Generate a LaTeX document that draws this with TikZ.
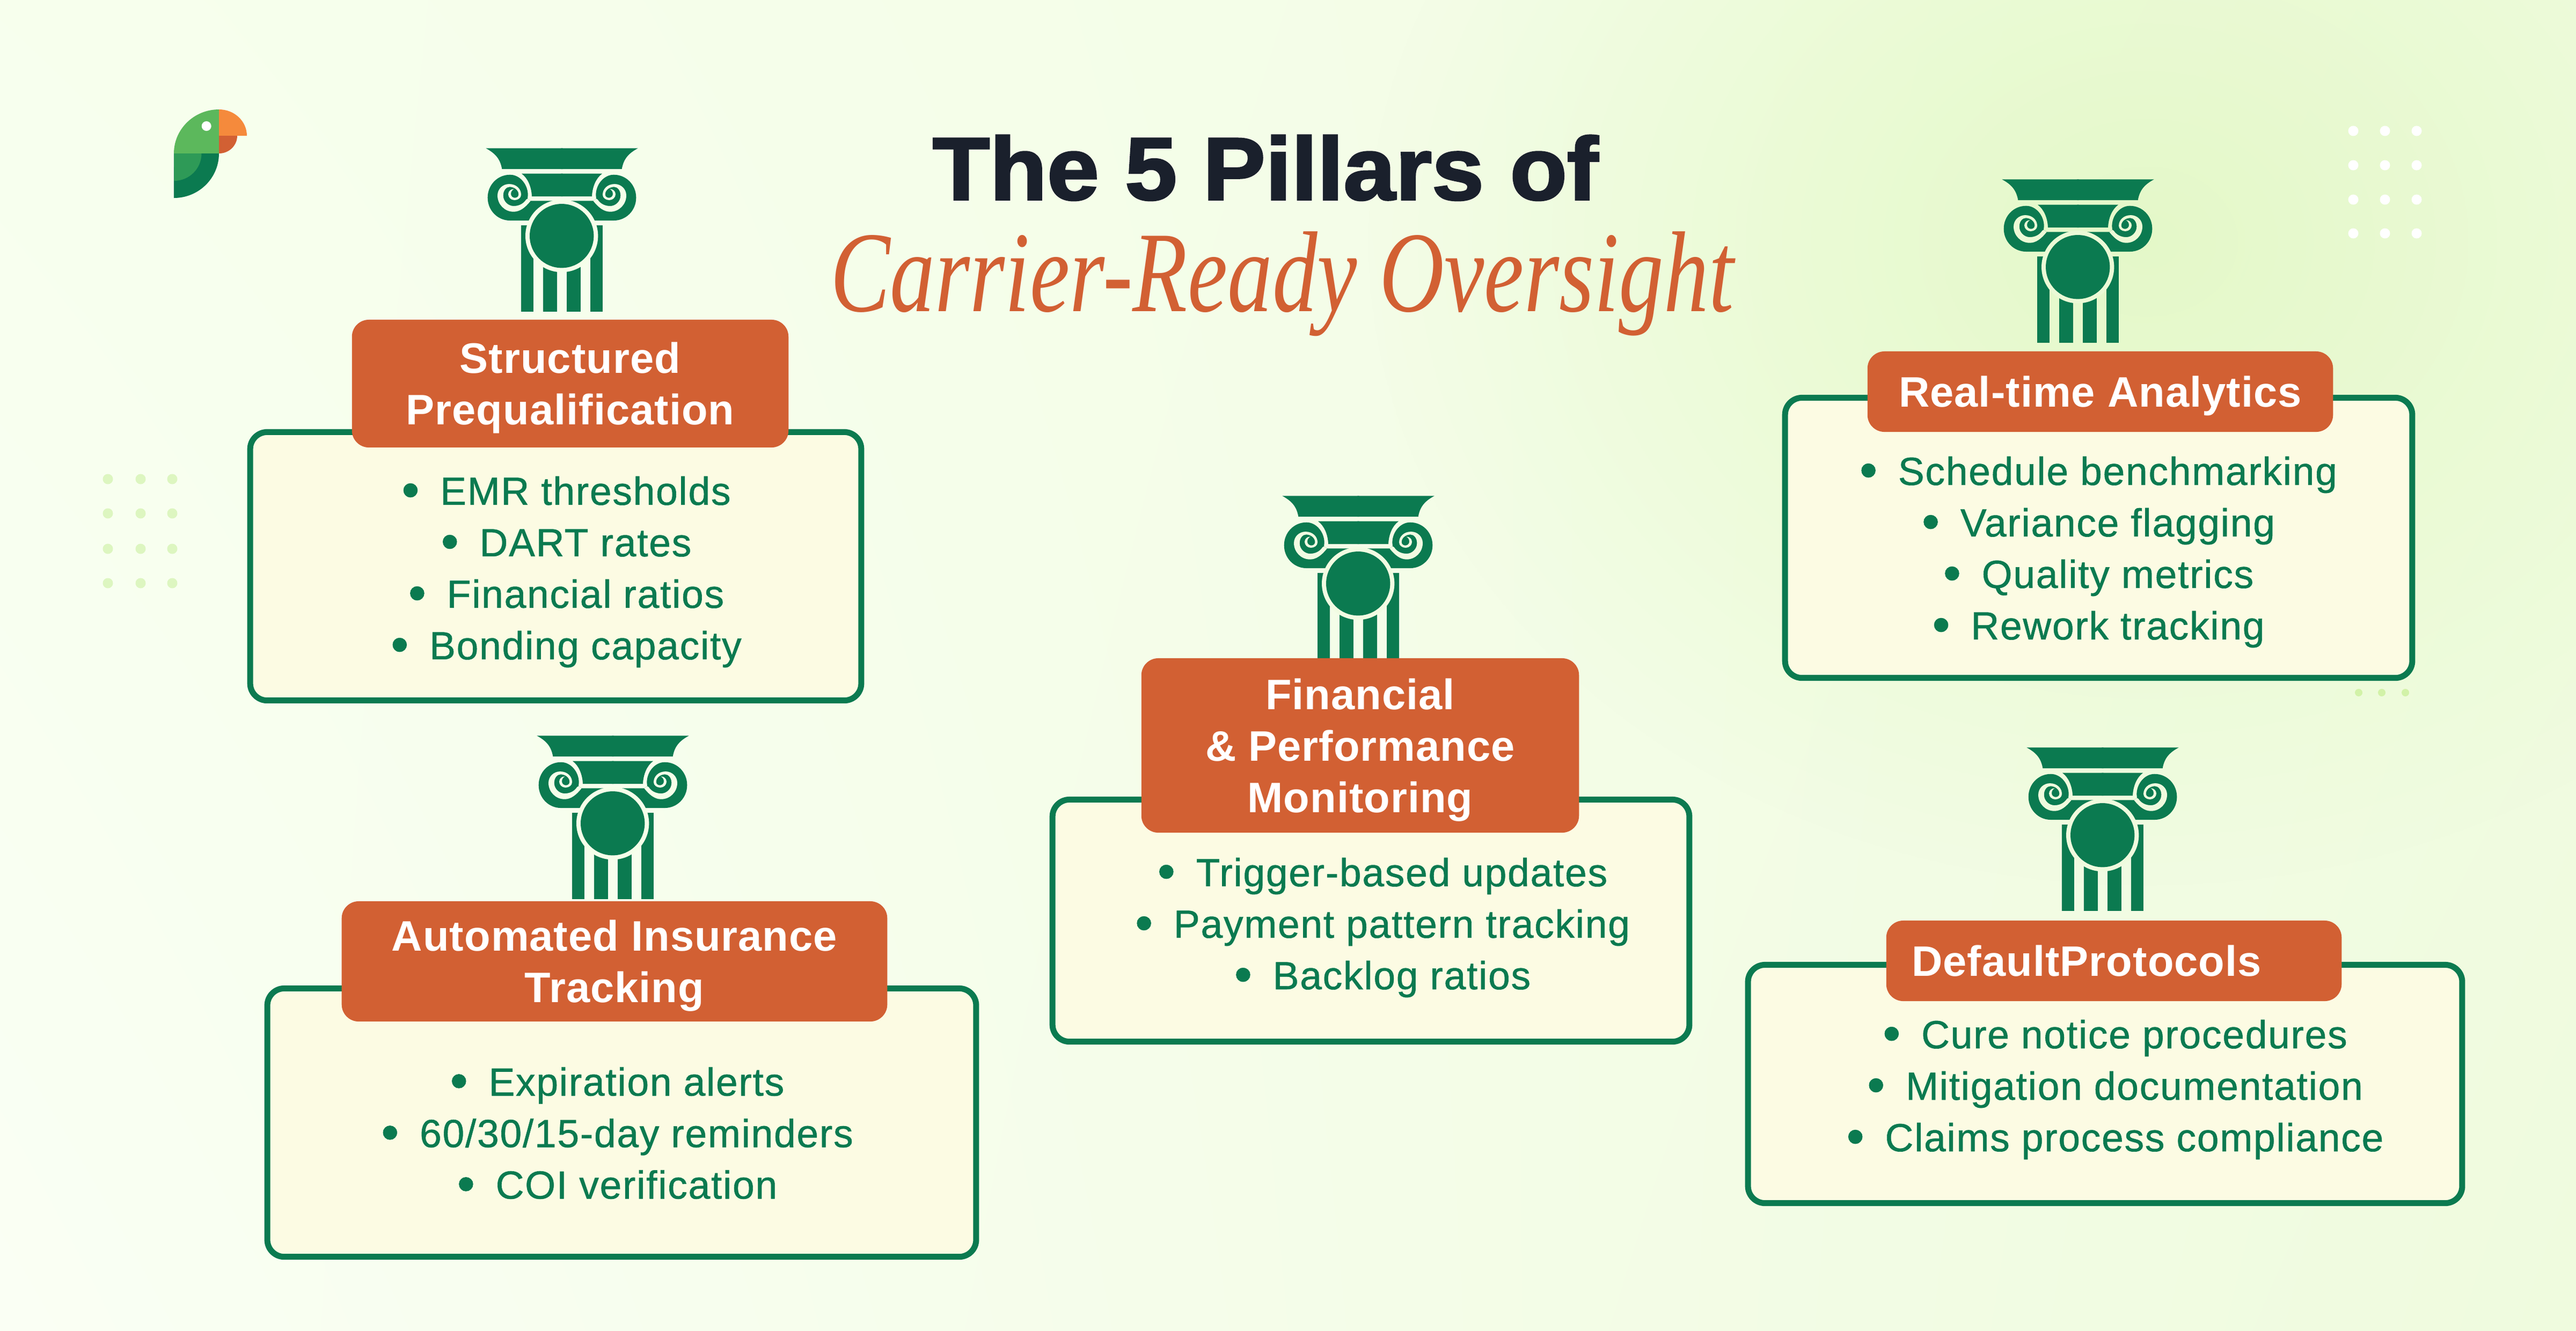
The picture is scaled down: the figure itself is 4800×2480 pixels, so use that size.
\documentclass[tikz,border=0pt]{standalone}
\usepackage{fontspec}
\usetikzlibrary{shadings,fadings}
\setmainfont{Liberation Sans}
\newfontfamily\bodyfont[LetterSpace=2.4,FakeBold=0.8]{Liberation Sans}
\newfontfamily\tabfont[LetterSpace=1.3]{Liberation Sans}
\newfontfamily\titlefont[FakeStretch=1.055,FakeBold=2.2]{Liberation Sans}
\newfontfamily\subfont[FakeStretch=0.78]{Liberation Serif}
\definecolor{pgreen}{HTML}{0B7A50}
\definecolor{porange}{HTML}{D26033}
\definecolor{pcream}{HTML}{FCFBE3}
\definecolor{pnavy}{HTML}{1A202C}
\definecolor{bgA}{HTML}{F5FFE9}
\definecolor{bgB}{HTML}{F1FCE2}
\definecolor{bgC}{HTML}{EBFAD6}
\definecolor{bgD}{HTML}{EFFBDE}
\definecolor{logohead}{HTML}{5CB85C}
\definecolor{logobeak}{HTML}{F58A3C}
\definecolor{logowing}{HTML}{2E9A57}
\definecolor{dotgreen}{HTML}{DDF6C0}
\definecolor{dotlime}{HTML}{D2F2A8}
\definecolor{spotgreen}{HTML}{E2F8C4}
\tikzfading[name=softspot,inner color=transparent!15,outer color=transparent!100]
\newcommand{\bl}{\raisebox{-1.3pt}{\fontsize{27}{27}\selectfont\textbullet}\hspace{11pt}}
\tikzset{
  panel/.style={draw=pgreen,fill=pcream,line width=3.13pt,rounded corners=9pt},
  tabbox/.style={fill=porange,text=white,rounded corners=9pt,align=center,inner sep=0pt,text depth=0pt,
    font=\tabfont\bfseries\fontsize{22.6}{27.3}\selectfont},
  listbox/.style={text=pgreen,align=center,inner sep=0pt,
    font=\bodyfont\fontsize{20.8}{27.3}\selectfont},
  pillar/.pic={
    \begin{scope}[scale=0.3333,shift={(-740,-1082)}]
      \foreach \s in {1,-1} {
        \begin{scope}[shift={(740,0)},xscale=\s,shift={(-740,0)}]
          \fill[pgreen] (315,168) -- (745,168) -- (745,284) -- (405,284) .. controls (395,225) and (365,195) .. (315,168) -- cycle;
          \fill[pgreen] (515,310) -- (745,310) -- (745,437) -- (572,437) .. controls (570,385) and (550,335) .. (515,310) -- cycle;
          \fill[pgreen] (555,572) -- (450,572) .. controls (380,572) and (325,515) .. (325,444) .. controls (325,373) and (380,316) .. (450,316) .. controls (505,316) and (550,370) .. (550,430) -- (548,450) -- (565,462) -- (745,462) -- (745,572) -- cycle;
          \fill[#1] (565,462) .. controls (535,500) and (505,523) .. (470,523) .. controls (420,523) and (380,482) .. (380,432) .. controls (380,395) and (410,368) .. (445,368) .. controls (485,368) and (512,395) .. (512,428) .. controls (512,445) and (495,458) .. (475,458) .. controls (455,458) and (440,442) .. (440,425) .. controls (440,408) and (455,395) .. (472,396) .. controls (460,402) and (455,412) .. (455,424) .. controls (455,436) and (465,445) .. (477,445) .. controls (490,445) and (498,437) .. (498,426) .. controls (498,403) and (475,384) .. (448,384) .. controls (428,384) and (412,405) .. (412,432) .. controls (412,465) and (440,491) .. (470,491) .. controls (500,491) and (525,478) .. (540,455) -- (548,450) -- cycle;
          \fill[pgreen] (513,598) rectangle (580,1082);
          \fill[pgreen] (634,800) rectangle (712,1082);
        \end{scope}
      }
      \fill[#1] (739,658) circle (203);
      \fill[pgreen] (739,658) circle (179);
    \end{scope}
  }
}
\begin{document}
\begin{tikzpicture}[x=0.01cm,y=-0.01cm]
  \useasboundingbox (0,0) rectangle (4800,2480);
  \shade[upper left=bgA!80!white,upper right=bgB,lower left=bgA!50!white,lower right=bgD] (0,0) rectangle (4800,2480);
  \begin{scope}
    \clip (0,0) rectangle (4800,2480);
    \fill[spotgreen,path fading=softspot] (4000,450) ellipse (1450 and 1200);
  \end{scope}
  % logo
  \fill[logohead] (324,286) -- (408,286) -- (408,204) arc[start angle=-90,end angle=-180,x radius=84,y radius=82] -- cycle;
  \fill[logobeak] (408,204) -- (408,253) -- (460,253) arc[start angle=0,end angle=-90,x radius=52,y radius=49] -- cycle;
  \fill[porange] (408,253) -- (442,253) arc[start angle=0,end angle=90,x radius=34,y radius=33] -- cycle;
  \fill[pgreen] (324,286) -- (408,286) arc[start angle=0,end angle=90,x radius=84,y radius=83] -- cycle;
  \fill[logowing] (324,286) -- (375.5,286) arc[start angle=0,end angle=90,radius=51] -- cycle;
  \fill[white] (384.7,235) circle (9);
  % dots
  \foreach \x in {201,262,321}
    \foreach \y in {893,957,1023,1087}
      \fill[dotgreen] (\x,\y) circle (9.5);
  \foreach \x in {4385,4444,4503}
    \foreach \y in {244,308,372,435}
      \fill[white] (\x,\y) circle (9.5);
  \foreach \x in {4395,4438,4482}
    \fill[dotlime] (\x,1291) circle (7);
  % title
  \node[anchor=base,text=pnavy,inner sep=0pt,font=\titlefont\bfseries\fontsize{47}{50}\selectfont] (title) at (2358,372) {The 5 Pillars of};
  \node[anchor=base,text=porange,inner sep=0pt,font=\subfont\itshape\fontsize{61}{64}\selectfont] (subtitle) at (2389,580) {Carrier-Ready Oversight};
  % first pillar
  \pic at (1047,581) {pillar=bgA};
  \node[panel,minimum width=11.38cm,minimum height=5cm] (panelA) at (1035.5,1055.5) {};
  \node[listbox] (listA) at (1055,1066) {\bl EMR thresholds\\ \bl DART rates\\ \bl Financial ratios\\ \bl Bonding capacity};
  \node[tabbox,minimum width=8.13cm,minimum height=2.38cm] (tabA) at (1062.5,715) {Structured\\Prequalification};
  % second pillar
  \pic at (1142,1676) {pillar=bgA};
  \node[panel,minimum width=13.2cm,minimum height=5cm] (panelB) at (1158.5,2092.5) {};
  \node[listbox] (listB) at (1150,2114) {\bl Expiration alerts\\ \bl 60/30/15-day reminders\\ \bl COI verification};
  \node[tabbox,minimum width=10.16cm,minimum height=2.24cm] (tabB) at (1145,1792) {Automated Insurance\\Tracking};
  % third pillar
  \pic at (2531,1229) {pillar=bgB};
  \node[panel,minimum width=11.86cm,minimum height=4.51cm] (panelC) at (2554.5,1716) {};
  \node[listbox] (listC) at (2576,1729) {\bl Trigger-based updates\\ \bl Payment pattern tracking\\ \bl Backlog ratios};
  \node[tabbox,minimum width=8.15cm,minimum height=3.25cm] (tabC) at (2534.5,1389.5) {Financial\\\& Performance\\Monitoring};
  % fourth pillar
  \pic at (3872,639) {pillar=bgC};
  \node[panel,minimum width=11.68cm,minimum height=5.22cm] (panelD) at (3910.5,1002.5) {};
  \node[listbox] (listD) at (3910,1029) {\bl Schedule benchmarking\\ \bl Variance flagging\\ \bl Quality metrics\\ \bl Rework tracking};
  \node[tabbox,minimum width=8.67cm,minimum height=1.5cm] (tabD) at (3913.5,730) {Real-time Analytics};
  % fifth pillar
  \pic at (3918,1698) {pillar=bgD};
  \node[panel,minimum width=13.3cm,minimum height=4.44cm] (panelE) at (3922.5,2020.5) {};
  \node[listbox] (listE) at (3941,2031) {\bl Cure notice procedures\\ \bl Mitigation documentation\\ \bl Claims process compliance};
  \node[tabbox,minimum width=8.48cm,minimum height=1.5cm] (tabE) at (3939,1791) {DefaultProtocols\hspace*{29pt}};
\end{tikzpicture}
\end{document}
